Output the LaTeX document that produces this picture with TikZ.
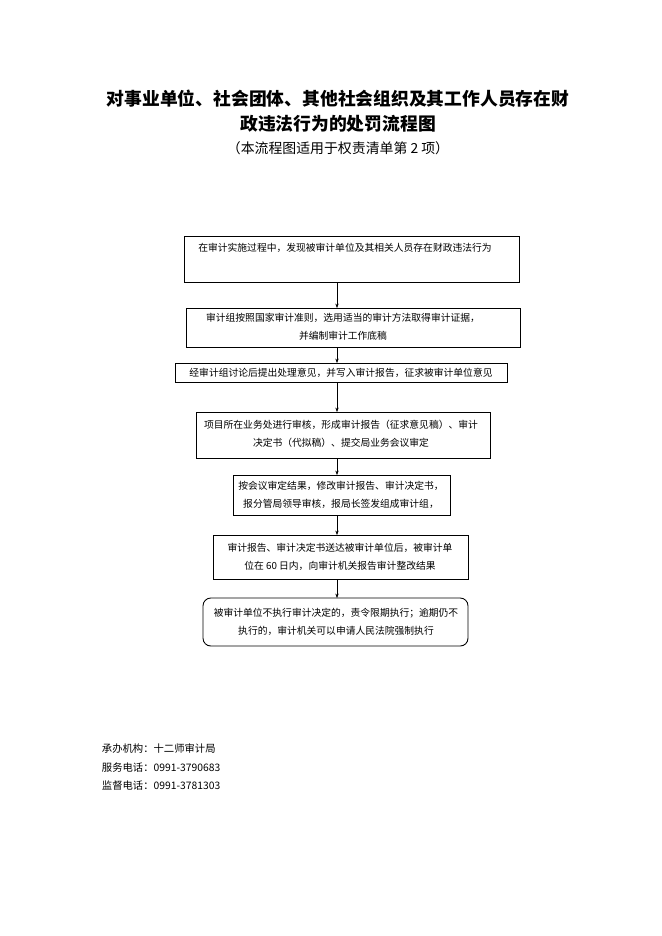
\documentclass[tikz,border=0pt]{standalone}
\usepackage{fontspec}
\setmainfont{Liberation Serif}
\newfontfamily\cjk{Noto Sans CJK SC}
\usetikzlibrary{arrows.meta}
\tikzset{
  txt/.style={font=\cjk\fontsize{8.8}{16}\selectfont, align=center},
  flow/.style={-{Stealth[length=4pt]}}
}
\begin{document}
\begin{tikzpicture}[x=0.9pt,y=-0.9pt]
  \useasboundingbox (0,0) rectangle (662,936);

  % title
  \node[font=\cjk\bfseries\fontsize{16}{22}\selectfont, align=center] (title) at (338,111)
    {对事业单位、社会团体、其他社会组织及其工作人员存在财\\政违法行为的处罚流程图};
  \node[font=\cjk\fontsize{12.5}{14}\selectfont] (sub) at (338,148) {（本流程图适用于权责清单第 2 项）};

  % boxes
  \draw[thick] (184,236) rectangle (519,282);
  \node[txt] (b1) at (345,248) {在审计实施过程中，发现被审计单位及其相关人员存在财政违法行为};
  \coordinate (b1s) at (337,282);

  \draw[thick] (186,308) rectangle (520,347);
  \node[txt] (b2) at (343,327) {审计组按照国家审计准则，选用适当的审计方法取得审计证据，\\并编制审计工作底稿};
  \coordinate (b2n) at (337,308); \coordinate (b2s) at (337,347);

  \draw[thick] (175,363) rectangle (507,382);
  \node[txt] (b3) at (341,372.5) {经审计组讨论后提出处理意见，并写入审计报告，征求被审计单位意见};
  \coordinate (b3n) at (337,363); \coordinate (b3s) at (337,382);

  \draw[thick] (196,412) rectangle (490,458);
  \node[txt] (b4) at (341,434) {项目所在业务处进行审核，形成审计报告（征求意见稿）、审计\\决定书（代拟稿）、提交局业务会议审定};
  \coordinate (b4n) at (337,412); \coordinate (b4s) at (337,458);

  \draw[thick] (233,475) rectangle (450,515);
  \node[txt] (b5) at (341,495) {按会议审定结果，修改审计报告、审计决定书，\\报分管局领导审核，报局长签发组成审计组，};
  \coordinate (b5n) at (337,475); \coordinate (b5s) at (337,515);

  \draw[thick] (213,535) rectangle (468,579);
  \node[txt] (b6) at (340,557) {审计报告、审计决定书送达被审计单位后，被审计单\\位在 60 日内，向审计机关报告审计整改结果};
  \coordinate (b6n) at (337,535); \coordinate (b6s) at (337,579);

  \draw[thick, rounded corners=7pt] (203,598) rectangle (468,646);
  \node[txt] (b7) at (336,622) {被审计单位不执行审计决定的，责令限期执行；逾期仍不\\执行的，审计机关可以申请人民法院强制执行};
  \coordinate (b7n) at (337,598);

  % arrows
  \draw[flow] (b1s) -- (b2n);
  \draw[flow] (b2s) -- (b3n);
  \draw[flow] (b3s) -- (b4n);
  \draw[flow] (b4s) -- (b5n);
  \draw[flow] (b5s) -- (b6n);
  \draw[flow] (b6s) -- (b7n);

  % footer
  \node[font=\cjk\fontsize{9.3}{16.5}\selectfont, align=left, anchor=north west] (foot) at (98,740)
    {承办机构：十二师审计局\\服务电话：0991-3790683\\监督电话：0991-3781303};
\end{tikzpicture}
\end{document}
